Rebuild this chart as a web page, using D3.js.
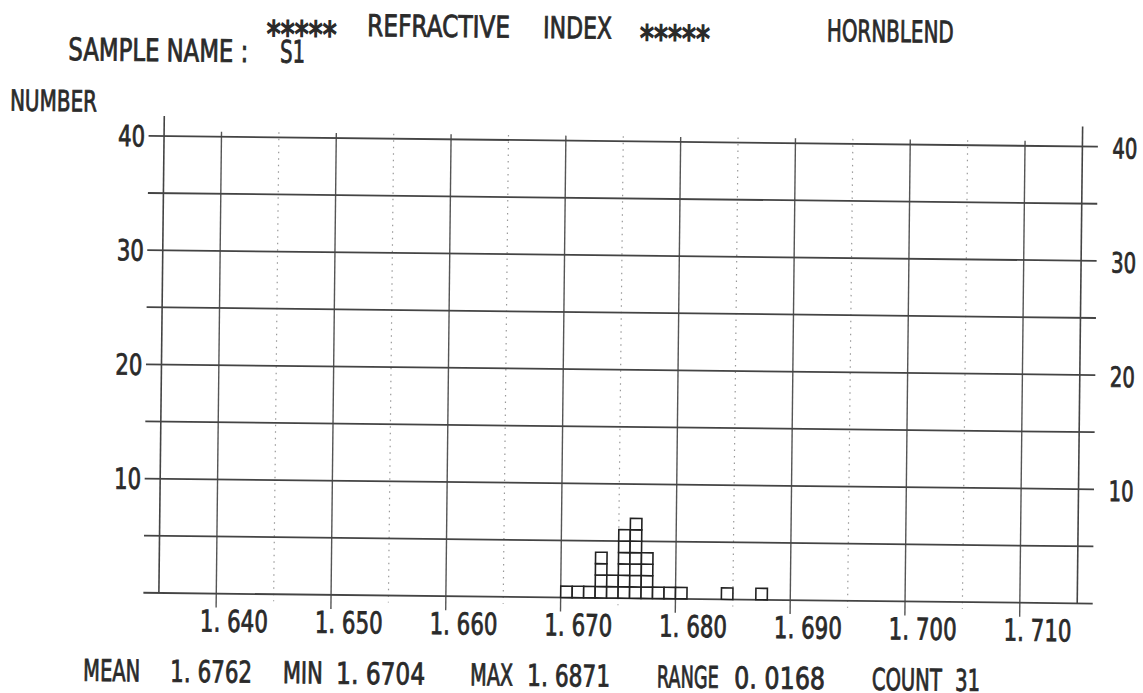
<html>
<head>
<style>
  body { margin: 0; background: #fff; }
  text { font-family: "Liberation Sans Narrow", "DejaVu Sans Condensed", "Liberation Sans", sans-serif; fill: #2a2a2a; stroke: #2a2a2a; stroke-width: 0.8px; }
</style>
</head>
<body>
<svg id="chart"></svg>

<script src="https://cdn.jsdelivr.net/npm/d3@7"></script>
<script>
// histogram cells (bin start, count per bin of width 0.001)
const binStarts = [1.670, 1.671, 1.672, 1.673, 1.674, 1.675, 1.676, 1.677, 1.678, 1.679, 1.680, 1.684, 1.687];
const binCounts = [1, 1, 1, 4, 2, 6, 7, 4, 1, 1, 1, 1, 1];
const binWidth = 0.001;

const xTicks = [1.640, 1.650, 1.660, 1.670, 1.680, 1.690, 1.700, 1.710];
const xHalfTicks = [1.645, 1.655, 1.665, 1.675, 1.685, 1.695, 1.705];
const yGrid = [0, 5, 10, 15, 20, 25, 30, 35, 40];
const yLabels = [10, 20, 30, 40];

const statNames = ["MEAN", "MIN", "MAX", "RANGE", "COUNT"];
const statValues = [1.6762, 1.6704, 1.6871, 0.0168, 31];

const width = 1143, height = 693;
// the scan is turned slightly clockwise
const tilt = 0.65, cx = 571.5, cy = 346.5;

const svg = d3.select("#chart").attr("width", width).attr("height", height);
const g = svg.append("g").attr("transform", `rotate(${tilt},${cx},${cy})`);

const L = 161.7, R = 1080.1, T = 140.7, B = 597.6;
const x = d3.scaleLinear().domain([1.635, 1.715]).range([L, R]);
const y = d3.scaleLinear().domain([0, 40]).range([B, T]);

const dotted = g.append("g");
dotted.selectAll("line").data(xHalfTicks).enter().append("line")
  .attr("x1", d => x(d)).attr("x2", d => x(d))
  .attr("y1", T - 5).attr("y2", B + 7)
  .attr("stroke", "#999").attr("stroke-width", 1.2).attr("stroke-dasharray", "1.5,5");

g.append("g").selectAll("line").data(xTicks).enter().append("line")
  .attr("x1", d => x(d)).attr("x2", d => x(d))
  .attr("y1", T - 5).attr("y2", B + 14)
  .attr("stroke", "#555").attr("stroke-width", 1.4);

g.append("g").selectAll("line").data(yGrid).enter().append("line")
  .attr("x1", L - 15.5).attr("x2", R + 15.5)
  .attr("y1", d => y(d)).attr("y2", d => y(d))
  .attr("stroke", "#444").attr("stroke-width", 1.8);

// side axes
g.append("g").selectAll("line").data(x.domain()).enter().append("line")
  .attr("x1", d => x(d)).attr("x2", d => x(d))
  .attr("y1", T - 20).attr("y2", B)
  .attr("stroke", "#444").attr("stroke-width", 1.6);

// one square per counted grain
const cells = [];
binStarts.forEach((b, i) => {
  for (let k = 0; k < binCounts[i]; k++) cells.push({ b: b, k: k });
});
g.append("g").selectAll("rect").data(cells).enter().append("rect")
  .attr("x", d => x(d.b)).attr("y", d => y(d.k + 1))
  .attr("width", d => x(d.b + binWidth) - x(d.b))
  .attr("height", d => y(d.k) - y(d.k + 1))
  .attr("fill", "#fff").attr("stroke", "#222").attr("stroke-width", 1.6);

// squeeze text sideways to the narrow printer lettering
function squeeze(sel, w) {
  sel.each(function () {
    const t = d3.select(this);
    const px = +t.attr("x"), py = +t.attr("y");
    const k = w / this.getComputedTextLength();
    t.attr("x", 0).attr("y", 0).attr("transform", `translate(${px},${py}) scale(${k},1)`);
  });
}

const dotSpace = s => s.replace(".", ". ");

g.append("g").selectAll("text").data(xTicks).enter().append("text")
  .attr("x", d => x(d) - 16).attr("y", B + 38)
  .style("font-size", "30px")
  .text(d => dotSpace(d3.format(".3f")(d)))
  .call(squeeze, 68);

g.append("g").selectAll("text").data(yLabels).enter().append("text")
  .attr("x", L - 19).attr("y", d => y(d) + 10.5)
  .attr("text-anchor", "end")
  .style("font-size", "29px")
  .text(d => d)
  .call(squeeze, 27);

g.append("g").selectAll("text").data(yLabels).enter().append("text")
  .attr("x", R + 30).attr("y", d => y(d) + 11.5)
  .style("font-size", "28px")
  .text(d => d)
  .call(squeeze, 25);

function label(str, lx, ly, w, size) {
  return g.append("text").attr("x", lx).attr("y", ly)
    .style("font-size", size + "px").text(str)
    .call(squeeze, w);
}

label("*****", 263.2, 50, 70, 36).style("stroke-width", "1.4px");
label("REFRACTIVE", 363.5, 38.3, 143, 30);
label("INDEX", 539.5, 38.3, 69, 30);
label("*****", 636.5, 50, 70, 36).style("stroke-width", "1.4px");
label("HORNBLEND", 823.2, 38.3, 127, 30);

label("SAMPLE NAME :", 65.1, 65.8, 180, 31);
label("S1", 276.8, 65.8, 25, 31);

label("NUMBER", 7.3, 116.9, 87, 29);

const statNameX = [86.9, 286.6, 473.9, 660.6, 875.6];
const statNameW = [57, 40, 43, 62, 70];
const statValX = [173.9, 339.9, 530.9, 737.9, 958.9];
const statValW = [82, 89, 83, 91, 25];
statNames.forEach((n, i) => {
  label(n, statNameX[i], 686.3, statNameW[i], 30);
  const v = i < 4 ? dotSpace(d3.format(".4f")(statValues[i])) : d3.format("d")(statValues[i]);
  label(v, statValX[i], 686.3, statValW[i], 30);
});
</script>
</body>
</html>
